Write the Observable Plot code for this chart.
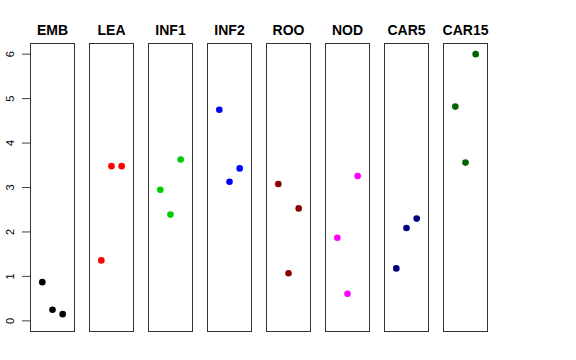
<!DOCTYPE html>
<html>
<head>
<meta charset="utf-8">
<script src="https://cdn.jsdelivr.net/npm/d3@7"></script>
<script src="https://cdn.jsdelivr.net/npm/@observablehq/plot@0.6"></script>
<style>
  html, body { margin: 0; padding: 0; background: #fff; }
  #chart svg { display: block; font-family: "Liberation Sans", Arial, Helvetica, sans-serif; }
</style>
</head>
<body>
<div id="chart"></div>
<script>
const panels = ["EMB", "LEA", "INF1", "INF2", "ROO", "NOD", "CAR5", "CAR15"];
const colors = ["#000000", "#FF0000", "#00CD00", "#0000FF", "#8B0000", "#FF00FF", "#000080", "#006400"];
const rep1 = [0.87, 1.36, 2.95, 4.75, 3.08, 1.87, 1.18, 4.82];
const rep2 = [0.25, 3.48, 2.39, 3.13, 1.07, 0.61, 2.09, 3.56];
const rep3 = [0.15, 3.48, 3.63, 3.43, 2.53, 3.26, 2.30, 6.00];
const yTicks = [0, 1, 2, 3, 4, 5, 6];

const data = [];
panels.forEach((p, i) => {
  [rep1, rep2, rep3].forEach((arr, j) => {
    data.push({panel: p, rep: j + 1, value: arr[i], color: colors[i]});
  });
});

const chart = Plot.plot({
  width: 576,
  height: 360,
  marginTop: 43,
  marginBottom: 29,
  marginLeft: 29,
  marginRight: 88,
  fx: {domain: panels, paddingInner: 0.253, paddingOuter: 0, label: null},
  x: {domain: [-0.16, 4.16], axis: null},
  y: {domain: [-0.24, 6.24], axis: null},
  marks: [
    Plot.frame({stroke: "#333", strokeWidth: 1}),
    Plot.axisFx({anchor: "top", tickSize: 0, tickPadding: 9, fontSize: 14, fontWeight: "bold", fill: "#000", label: null}),
    Plot.axisY({anchor: "left", ticks: yTicks, tickFormat: d => String(d), tickSize: 8, tickPadding: 9, tickRotate: -90, fontSize: 11, stroke: "#444", fill: "#000", label: null}),
    Plot.dot(data, {fx: "panel", x: "rep", y: "value", fill: "color", r: 3.3, stroke: null})
  ]
});
document.getElementById("chart").appendChild(chart);
</script>
</body>
</html>
